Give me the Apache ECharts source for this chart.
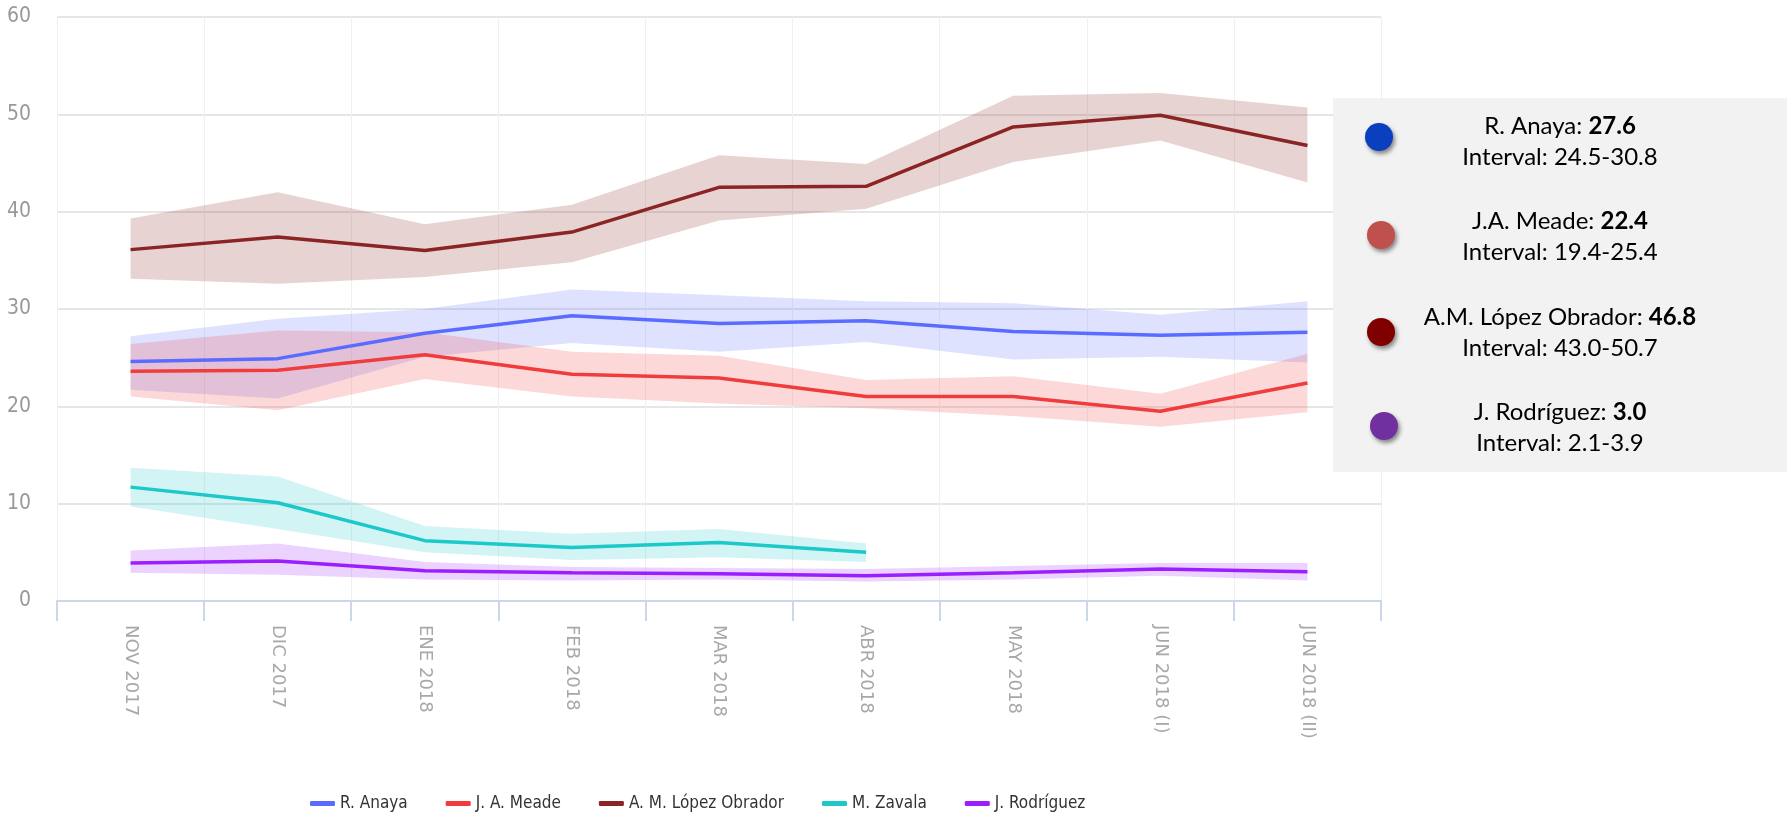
<!DOCTYPE html>
<html>
<head>
<meta charset="utf-8">
<script src="https://cdn.jsdelivr.net/npm/echarts@6/dist/echarts.min.js"></script>
<style>
  html, body { margin: 0; padding: 0; background: #fff; }
  #chart { width: 1787px; height: 815px; }
</style>
</head>
<body>
<div id="chart"></div>
<script>
// categorías del eje x
var categories = ['NOV 2017', 'DIC 2017', 'ENE 2018', 'FEB 2018', 'MAR 2018', 'ABR 2018', 'MAY 2018', 'JUN 2018 (I)', 'JUN 2018 (II)'];
var yTicks = [0, 10, 20, 30, 40, 50, 60];

// valores por candidato (centro, límite inferior, límite superior)
var anayaMid  = [24.6, 24.9, 27.5, 29.3, 28.5, 28.8, 27.7, 27.3, 27.6];
var anayaLow  = [21.7, 20.8, 25.1, 26.5, 25.6, 26.6, 24.8, 25.1, 24.5];
var anayaHigh = [27.2, 29.0, 30.0, 32.0, 31.4, 30.8, 30.6, 29.4, 30.8];

var meadeMid  = [23.6, 23.7, 25.3, 23.3, 22.9, 21.0, 21.0, 19.5, 22.4];
var meadeLow  = [21.0, 19.6, 22.8, 21.0, 20.3, 19.8, 19.0, 17.9, 19.4];
var meadeHigh = [26.4, 27.8, 27.6, 25.6, 25.2, 22.7, 23.1, 21.3, 25.4];

var lopezMid  = [36.1, 37.4, 36.0, 37.9, 42.5, 42.6, 48.7, 49.9, 46.8];
var lopezLow  = [33.1, 32.6, 33.3, 34.8, 39.1, 40.3, 45.1, 47.3, 43.0];
var lopezHigh = [39.3, 42.0, 38.7, 40.7, 45.8, 44.9, 51.9, 52.2, 50.7];

var zavalaMid  = [11.7, 10.1, 6.2, 5.5, 6.0, 5.0, null, null, null];
var zavalaLow  = [9.7, 7.4, 5.0, 4.2, 4.5, 4.0, null, null, null];
var zavalaHigh = [13.7, 12.8, 7.7, 6.9, 7.4, 5.9, null, null, null];

var rodriguezMid  = [3.9, 4.1, 3.1, 2.9, 2.8, 2.6, 2.9, 3.3, 3.0];
var rodriguezLow  = [2.9, 2.7, 2.2, 2.1, 2.2, 2.0, 2.2, 2.6, 2.1];
var rodriguezHigh = [5.2, 5.9, 4.0, 3.5, 3.4, 3.3, 3.6, 3.9, 3.9];

var seriesNames  = ['R. Anaya', 'J. A. Meade', 'A. M. López Obrador', 'M. Zavala', 'J. Rodríguez'];
var seriesColors = ['#5a6cff', '#f03c3c', '#8b2525', '#1cc8c8', '#9b1eff'];

// cuadro de resumen a la derecha
var summaryNames  = ['R. Anaya', 'J.A. Meade', 'A.M. López Obrador', 'J. Rodríguez'];
var summaryValues = ['27.6', '22.4', '46.8', '3.0'];
var summaryRanges = ['24.5-30.8', '19.4-25.4', '43.0-50.7', '2.1-3.9'];
var summaryColors = ['#0a3fc0', '#c0504d', '#800000', '#7030a0'];

var mids  = [anayaMid, meadeMid, lopezMid, zavalaMid, rodriguezMid];
var lows  = [anayaLow, meadeLow, lopezLow, zavalaLow, rodriguezLow];
var highs = [anayaHigh, meadeHigh, lopezHigh, zavalaHigh, rodriguezHigh];

function hexToRgba(hex, a) {
    var n = parseInt(hex.slice(1), 16)
    return 'rgba(' + (n >> 16) + ',' + ((n >> 8) & 255) + ',' + (n & 255) + ',' + a + ')'
}

var series = []
// bandas (rango) primero, debajo de las líneas
seriesNames.forEach(function (name, i) {
    var stackId = 'band' + i
    series.push({
        name: name + ' rango-base',
        type: 'line',
        stack: stackId,
        data: lows[i],
        symbol: 'none',
        silent: true,
        lineStyle: { opacity: 0 },
        z: 1
    })
    series.push({
        name: name + ' rango',
        type: 'line',
        stack: stackId,
        data: highs[i].map(function (h, k) { return h == null ? null : +(h - lows[i][k]).toFixed(2) }),
        symbol: 'none',
        silent: true,
        lineStyle: { opacity: 0 },
        areaStyle: { color: hexToRgba(seriesColors[i], 0.2), opacity: 1 },
        z: 1
    })
})
seriesNames.forEach(function (name, i) {
    series.push({
        name: name,
        type: 'line',
        data: mids[i],
        symbol: 'none',
        itemStyle: { color: seriesColors[i] },
        lineStyle: { color: seriesColors[i], width: 3.5 },
        z: 3
    })
})

// elementos del cuadro de resumen
var graphics = [{
    type: 'rect',
    shape: { x: 1333, y: 98, width: 454, height: 374 },
    style: { fill: '#f2f2f2' },
    z: 10
}]
var lineTop = [127, 222, 318, 413]
var dotX = [1379, 1381, 1381, 1384]
var dotY = [137, 235, 332, 426]
summaryNames.forEach(function (n, i) {
    graphics.push({
        type: 'circle',
        shape: { cx: dotX[i], cy: dotY[i], r: 14 },
        style: {
            fill: summaryColors[i],
            shadowBlur: 4,
            shadowOffsetX: 2,
            shadowOffsetY: 3,
            shadowColor: 'rgba(0,0,0,0.45)'
        },
        z: 11
    })
    graphics.push({
        type: 'text',
        x: 1560,
        y: lineTop[i] - 16,
        style: {
            text: n + ': {b|' + summaryValues[i] + '}\nInterval: ' + summaryRanges[i],
            fontFamily: 'Lato',
            fontSize: 24,
            lineHeight: 31,
            fill: '#000',
            align: 'center',
            verticalAlign: 'top',
            rich: {
                b: { fontFamily: 'Lato', fontSize: 24, fontWeight: 'bold', fill: '#000' }
            }
        },
        z: 11
    })
})

var myChart = echarts.init(document.getElementById('chart'))
myChart.setOption({
    animation: false,
    grid: { left: 57, right: 406, top: 17, bottom: 214 },
    legend: {
        data: seriesNames,
        left: 305,
        top: 790,
        itemWidth: 25,
        itemHeight: 5,
        itemGap: 38,
        icon: 'roundRect',
        textStyle: {
            fontFamily: "'Liberation Sans Narrow', 'DejaVu Sans Condensed', sans-serif",
            fontSize: 17,
            color: '#333'
        }
    },
    xAxis: {
        type: 'category',
        data: categories,
        boundaryGap: true,
        axisLine: { lineStyle: { color: '#ccd6eb', width: 2 } },
        axisTick: { show: true, length: 20, lineStyle: { color: '#ccd6eb', width: 2 } },
        splitLine: { show: true, lineStyle: { color: '#f0f0f0', width: 1 } },
        axisLabel: {
            rotate: -90,
            margin: 24,
            interval: 0,
            fontFamily: 'DejaVu Sans',
            fontSize: 18,
            color: '#a8a8a8'
        }
    },
    yAxis: {
        type: 'value',
        min: yTicks[0],
        max: yTicks[yTicks.length - 1],
        interval: 10,
        axisLine: { show: false },
        axisTick: { show: false },
        splitLine: { lineStyle: { color: '#e6e6e6', width: 2 } },
        axisLabel: {
            margin: 26,
            fontFamily: "'Liberation Sans Narrow', 'DejaVu Sans Condensed', sans-serif",
            fontSize: 21,
            color: '#999'
        }
    },
    graphic: graphics,
    series: series
})
</script>
</body>
</html>
